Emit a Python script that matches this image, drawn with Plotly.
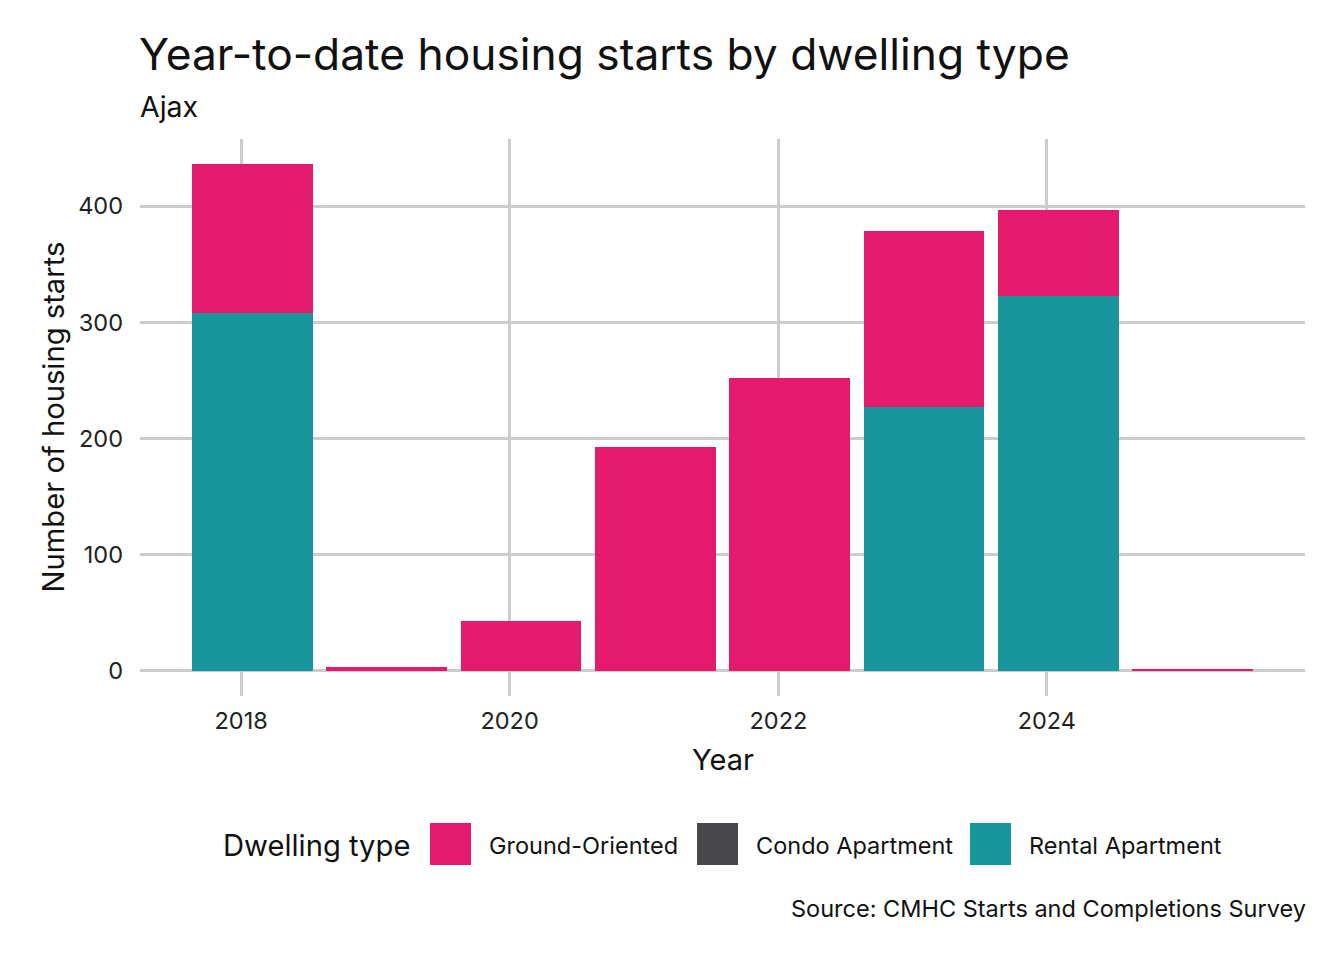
import plotly.graph_objects as go

years = [2018, 2019, 2020, 2021, 2022, 2023, 2024, 2025]
ground_oriented = [128, 3, 43, 193, 252, 152, 74, 1]
condo_apartment = [0, 0, 0, 0, 0, 0, 0, 0]
rental_apartment = [308, 0, 0, 0, 0, 227, 323, 0]
x_ticks = [2018, 2020, 2022, 2024]
y_ticks = [0, 100, 200, 300, 400]

title = "Year-to-date housing starts by dwelling type"
subtitle = "Ajax"
caption = "Source: CMHC Starts and Completions Survey"
legend_title = "Dwelling type"
series = [
    ("Ground-Oriented", ground_oriented, "#E41A6C"),
    ("Condo Apartment", condo_apartment, "#48474B"),
    ("Rental Apartment", rental_apartment, "#19959E"),
]

OFF = 8  # page body margin
W, H = 1344 - OFF, 960 - OFF
L, R, T, B = 140, 1305, 139, 696   # plot area in page pixels
FONT = "Inter"
TXT = "#111111"

dates = [f"{y}-02-01" for y in years]
bar_w = 0.9 * 365.25 * 86400000

fig = go.Figure()
# plotly stacks first trace at bottom: rental, condo, ground
for name, vals, col in reversed(series):
    fig.add_trace(go.Bar(x=dates, y=vals, name=name, marker_color=col,
                         marker_line_width=0, width=bar_w, showlegend=False))

def px(p):
    return (p - L) / (R - L)

def py(p):
    return (B - p) / (B - T)

def text(t, x, y, size, xanchor="left", angle=0):
    return dict(text=t, x=px(x), y=py(y), xref="paper", yref="paper",
                xanchor=xanchor, yanchor="middle", showarrow=False, textangle=angle,
                font=dict(family=FONT, size=size, color=TXT))

ann = [
    text(title, 137, 54, 44.3),
    text(subtitle, 138, 106, 28.5),
    text("Year", 722.5, 760, 29),
    text("Number of housing starts", 53, 417.5, 29.2, "center", -90),
    text(caption, 1308, 908, 23.5, "right"),
    text(legend_title, 221, 845, 29.2),
]
ann[2]["xanchor"] = "center"
key_x = [430, 697, 970]
shapes = []
for (name, vals, col), kx in zip(series, key_x):
    shapes.append(dict(type="rect", xref="paper", yref="paper",
                       x0=px(kx), x1=px(kx + 41), y0=py(865), y1=py(823),
                       fillcolor=col, line_width=0))
    ann.append(text(name, kx + 57, 845, 23.5))

fig.update_layout(
    width=W, height=H,
    margin=dict(l=L - OFF, r=(1344 - R), t=T - OFF, b=(960 - B), pad=0),
    paper_bgcolor="white", plot_bgcolor="white",
    barmode="stack", bargap=0,
    showlegend=False,
    annotations=ann, shapes=shapes,
    font=dict(family=FONT, color=TXT),
)
fig.update_xaxes(
    type="date", range=["2017-04-01", "2025-12-03"],
    tickvals=[f"{y}-01-01" for y in x_ticks], ticktext=[str(y) for y in x_ticks],
    showgrid=True, gridcolor="#CCCCCC", gridwidth=2.5,
    showline=False, zeroline=False, ticks="",
    tickfont=dict(family=FONT, size=23.5, color="#222222"),
    ticklabelstandoff=8,
)
fig.update_yaxes(
    range=[-21.8, 457.8], tickvals=y_ticks,
    showgrid=True, gridcolor="#CCCCCC", gridwidth=2.5,
    zeroline=True, zerolinecolor="#CCCCCC", zerolinewidth=2.5,
    showline=False, ticks="",
    tickfont=dict(family=FONT, size=23.5, color="#222222"),
    ticklabelstandoff=16,
)

fig.write_html("out.html")
